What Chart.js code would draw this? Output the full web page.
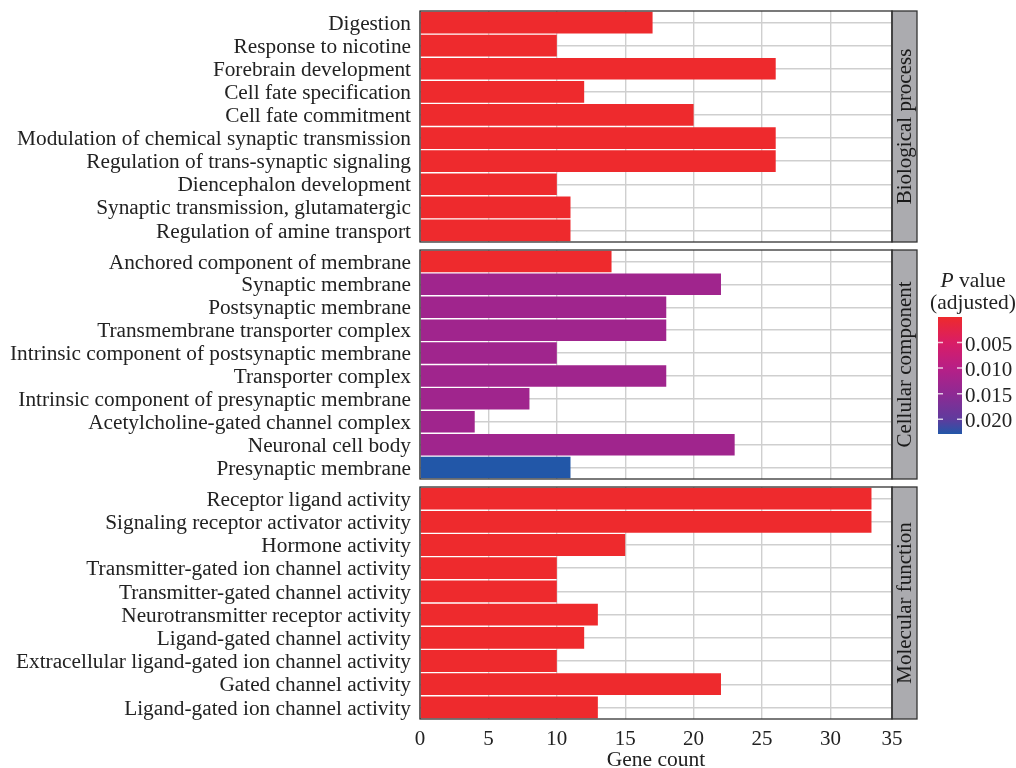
<!DOCTYPE html>
<html><head><meta charset="utf-8">
<script src="https://cdn.jsdelivr.net/npm/chart.js@4.4.1/dist/chart.umd.min.js"></script>
<style>
html,body{margin:0;padding:0;background:#fff;overflow:hidden;width:1016px;height:768px;}
canvas{position:absolute;left:0;display:block;}
</style></head><body>
<canvas id="c1" width="1016" height="246" style="top:0px;width:1016px;height:246px"></canvas>
<canvas id="c2" width="1016" height="237" style="top:246px;width:1016px;height:237px"></canvas>
<canvas id="c3" width="1016" height="290" style="top:483px;width:1016px;height:290px"></canvas>
<script>
const FONT = '"Liberation Serif", "Times New Roman", serif';

// ---- data ----
const bpTerms = ['Digestion','Response to nicotine','Forebrain development','Cell fate specification','Cell fate commitment','Modulation of chemical synaptic transmission','Regulation of trans-synaptic signaling','Diencephalon development','Synaptic transmission, glutamatergic','Regulation of amine transport'];
const bpCounts = [17,10,26,12,20,26,26,10,11,11];
const bpP = [0.0001,0.0001,0.0001,0.0001,0.0001,0.0001,0.0001,0.0001,0.0001,0.0001];

const ccTerms = ['Anchored component of membrane','Synaptic membrane','Postsynaptic membrane','Transmembrane transporter complex','Intrinsic component of postsynaptic membrane','Transporter complex','Intrinsic component of presynaptic membrane','Acetylcholine-gated channel complex','Neuronal cell body','Presynaptic membrane'];
const ccCounts = [14,22,18,18,10,18,8,4,23,11];
const ccP = [0.0001,0.0128,0.0128,0.0128,0.0128,0.0128,0.0128,0.0128,0.0128,0.0229];

const mfTerms = ['Receptor ligand activity','Signaling receptor activator activity','Hormone activity','Transmitter-gated ion channel activity','Transmitter-gated channel activity','Neurotransmitter receptor activity','Ligand-gated channel activity','Extracellular ligand-gated ion channel activity','Gated channel activity','Ligand-gated ion channel activity'];
const mfCounts = [33,33,15,10,10,13,12,10,22,13];
const mfP = [0.0001,0.0001,0.0001,0.0001,0.0001,0.0001,0.0001,0.0001,0.0001,0.0001];

const panelLabels = ['Biological process','Cellular component','Molecular function'];

const xMax = 34.5;
const xTickValues = [0,5,10,15,20,25,30,35];
const xTickLabels = ['0','5','10','15','20','25','30','35'];
const xTitle = 'Gene count';

const pStops = [0,0.005,0.010,0.015,0.020,0.0229];
const pColors = ['#EE2A2C','#D91D66','#B71F86','#8E2A93','#5F3B9D','#2257A8'];
const legendTickValues = [0.005,0.010,0.015,0.020];
const legendTickLabels = ['0.005','0.010','0.015','0.020'];

// ---- helpers ----
function hex2rgb(h){ return [parseInt(h.slice(1,3),16),parseInt(h.slice(3,5),16),parseInt(h.slice(5,7),16)]; }
function pColor(p){
  if (p <= pStops[0]) return pColors[0];
  for (let i=1;i<pStops.length;i++){
    if (p <= pStops[i]){
      const t = (p - pStops[i-1])/(pStops[i]-pStops[i-1]);
      const a = hex2rgb(pColors[i-1]), b = hex2rgb(pColors[i]);
      const c = a.map((v,k)=>Math.round(v+(b[k]-v)*t));
      return 'rgb('+c.join(',')+')';
    }
  }
  return pColors[pColors.length-1];
}

const panelDeco = {
  id:'panelDeco',
  afterDraw(chart, args, opts){
    const ctx = chart.ctx, a = chart.chartArea;
    ctx.save();
    const sw = 25, h = a.bottom - a.top;
    ctx.fillStyle = '#ABABAF';
    ctx.fillRect(a.right, a.top, sw, h);
    ctx.strokeStyle = '#333333';
    ctx.lineWidth = 1.3;
    ctx.strokeRect(a.right, a.top, sw, h);
    ctx.strokeRect(a.left, a.top, a.right - a.left, h);
    ctx.translate(a.right + sw/2 + 1, (a.top + a.bottom)/2);
    ctx.rotate(-Math.PI/2);
    ctx.fillStyle = '#1a1a1a';
    ctx.font = '21px ' + FONT;
    ctx.textAlign = 'center';
    ctx.textBaseline = 'middle';
    ctx.fillText(opts.label, 0, 0);
    ctx.restore();
  }
};

const pLegend = {
  id:'pLegend',
  afterDraw(chart, args, opts){
    if (!opts.show) return;
    const ctx = chart.ctx, oy = opts.offsetY;
    const x0 = 938, x1 = 962, y0 = 317 - oy, y1 = 434 - oy;
    const pMin = pStops[0], pMax = pStops[pStops.length-1];
    const yOf = p => y0 + (p - pMin)/(pMax - pMin)*(y1 - y0);
    ctx.save();
    const g = ctx.createLinearGradient(0, y0, 0, y1);
    pStops.forEach((p,i)=> g.addColorStop((p-pMin)/(pMax-pMin), pColors[i]));
    ctx.fillStyle = g;
    ctx.fillRect(x0, y0, x1-x0, y1-y0);
    ctx.strokeStyle = 'rgba(255,255,255,0.75)';
    ctx.lineWidth = 1.5;
    legendTickValues.forEach(v=>{
      const y = yOf(v);
      ctx.beginPath(); ctx.moveTo(x0, y); ctx.lineTo(x0+5, y); ctx.moveTo(x1-5, y); ctx.lineTo(x1, y); ctx.stroke();
    });
    ctx.fillStyle = '#222';
    ctx.font = '21px ' + FONT;
    ctx.textAlign = 'left';
    ctx.textBaseline = 'middle';
    legendTickValues.forEach((v,i)=> ctx.fillText(legendTickLabels[i], 965, yOf(v) + 2.5));
    // title
    ctx.font = 'italic 21.5px ' + FONT;
    const wP = ctx.measureText('P').width;
    ctx.font = '21.5px ' + FONT;
    const wV = ctx.measureText(' value').width;
    const cx = 973, ty = 281 - oy;
    let sx = cx - (wP + wV)/2;
    ctx.font = 'italic 21.5px ' + FONT;
    ctx.fillText('P', sx, ty);
    ctx.font = '21.5px ' + FONT;
    ctx.fillText(' value', sx + wP, ty);
    ctx.textAlign = 'center';
    ctx.fillText('(adjusted)', cx, 303 - oy);
    ctx.restore();
  }
};

function makeChart(id, terms, counts, pvals, label, o){
  return new Chart(document.getElementById(id), {
    type:'bar',
    data:{labels:terms, datasets:[{data:counts, backgroundColor:pvals.map(pColor), borderWidth:0, barPercentage:0.94, categoryPercentage:1}]},
    options:{
      indexAxis:'y', responsive:false, animation:false, devicePixelRatio:1,
      layout:{padding:{top:o.padTop, bottom:o.padBottom, left:0, right:124}},
      plugins:{legend:{display:false}, tooltip:{enabled:false}, panelDeco:{label:label}, pLegend:{show:!!o.legend, offsetY:o.offsetY}},
      scales:{
        x:{type:'linear', min:0, max:xMax,
          afterBuildTicks(s){ s.ticks = xTickValues.map(v=>({value:Math.min(v,xMax)})); },
          grid:{color:'#CFCFCF', lineWidth:1.4, drawTicks:false},
          border:{display:false},
          ticks:{display:o.showX, padding:8, color:'#222', font:{family:FONT, size:21}, maxRotation:0, autoSkip:false,
                 callback:(v,i)=>xTickLabels[i]},
          title:{display:o.showX, text:xTitle, color:'#222', font:{family:FONT, size:21.5}, padding:0},
          afterFit(s){ s.height = o.xHeight; s.paddingLeft = 0; s.paddingRight = 0; }
        },
        y:{type:'category', offset:true,
          grid:{offset:false, color:'#CFCFCF', lineWidth:1.4, drawTicks:false},
          border:{display:false},
          ticks:{padding:9, labelOffset:1.5, color:'#222', font:{family:FONT, size:21.3}, autoSkip:false},
          afterFit(s){ s.width = 420; s.paddingTop = 0; s.paddingBottom = 0; }
        }
      }
    },
    plugins:[panelDeco, pLegend]
  });
}

makeChart('c1', bpTerms, bpCounts, bpP, panelLabels[0], {padTop:11, padBottom:4, showX:false, xHeight:0});
makeChart('c2', ccTerms, ccCounts, ccP, panelLabels[1], {padTop:4, padBottom:4, showX:false, xHeight:0, legend:true, offsetY:246});
makeChart('c3', mfTerms, mfCounts, mfP, panelLabels[2], {padTop:4, padBottom:0, showX:true, xHeight:54});
</script>
</body></html>
